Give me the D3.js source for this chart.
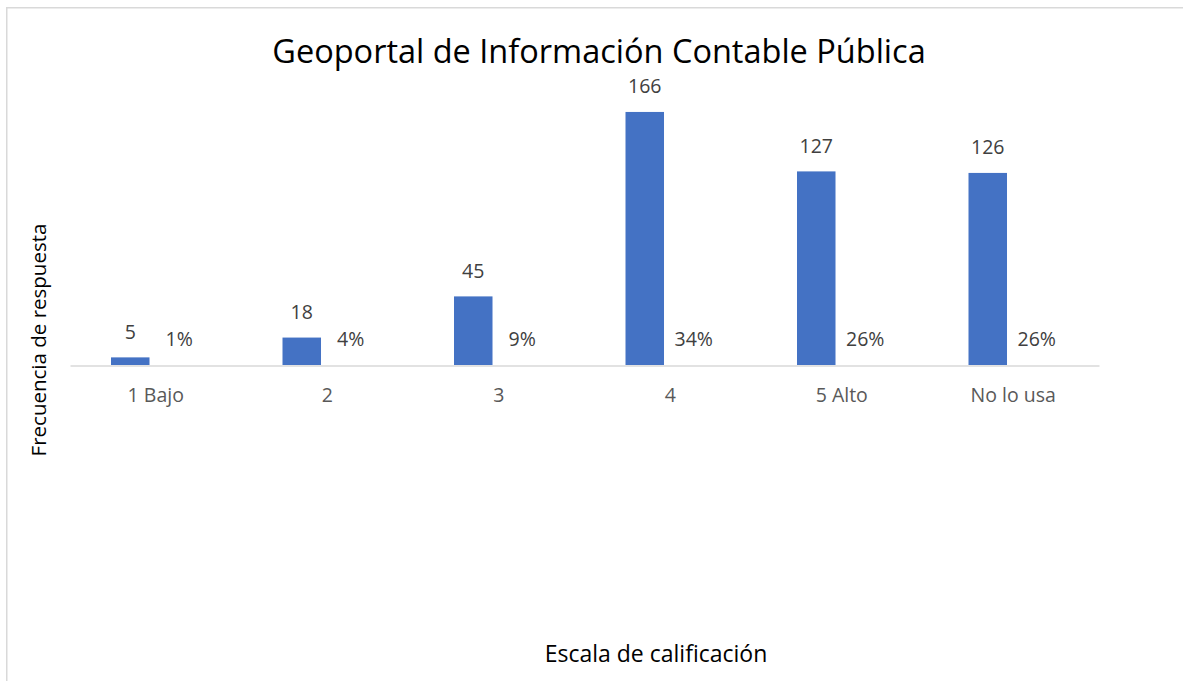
<!DOCTYPE html>
<html>
<head>
<meta charset="utf-8">
<script src="https://cdn.jsdelivr.net/npm/d3@7"></script>
<style>
  html, body { margin: 0; padding: 0; background: #fff; }
  svg { display: block; }
  text { font-family: "Open Sans", Lato, sans-serif; }
</style>
</head>
<body>
<svg id="chart" width="1183" height="681"></svg>
<script>
const categories = ["1 Bajo", "2", "3", "4", "5 Alto", "No lo usa"];
const frequencies = [5, 18, 45, 166, 127, 126];
const percentages = [0.01, 0.04, 0.09, 0.34, 0.26, 0.26];
const seriesNames = ["Frecuencia", "Porcentaje"];
const titleText = "Geoportal de Información Contable Pública";
const xTitle = "Escala de calificación";
const yTitle = "Frecuencia de respuesta";

const svg = d3.select("#chart");
const W = 1183, H = 681;

// outer frame
svg.append("rect")
  .attr("x", 6.75).attr("y", 7.75)
  .attr("width", W + 20).attr("height", H + 20)
  .attr("fill", "#fff").attr("stroke", "#d9d9d9").attr("stroke-width", 1.5);

const plot = { left: 70, right: 1099, top: 90, bottom: 365 };

const x0 = d3.scaleBand().domain(categories).range([plot.left, plot.right]).paddingInner(0).paddingOuter(0);
const bw = x0.bandwidth();
const x1 = d3.scaleBand().domain(seriesNames)
  .range([bw / 2 - 44.75, bw / 2 + 44.75]).paddingInner(0.245).paddingOuter(0);
const y = d3.scaleLinear().domain([0, 180.4]).range([plot.bottom, plot.top]);

const data = categories.map((c, i) => ({ cat: c, freq: frequencies[i], pct: percentages[i] }));

// bars: frequency
svg.append("g").selectAll("rect").data(data).join("rect")
  .attr("x", d => x0(d.cat) + x1("Frecuencia"))
  .attr("y", d => y(d.freq))
  .attr("width", x1.bandwidth())
  .attr("height", d => y(0) - y(d.freq))
  .attr("fill", "#4472c4");

// x axis line
const xAxis = d3.axisBottom(x0).tickSize(0).tickPadding(23);
const gx = svg.append("g").attr("transform", `translate(0,${plot.bottom + 0.5})`).call(xAxis);
gx.select(".domain").attr("stroke", "#d9d9d9").attr("stroke-width", 1.3);
gx.selectAll(".tick text")
  .attr("font-family", "'Open Sans', Lato, sans-serif")
  .attr("font-size", 19.5).attr("fill", "#595959").attr("dy", "0.71em");

// data labels: frequency
svg.append("g").selectAll("text").data(data).join("text")
  .attr("x", d => x0(d.cat) + x1("Frecuencia") + x1.bandwidth() / 2)
  .attr("y", d => y(d.freq) - 18.5)
  .attr("text-anchor", "middle")
  .attr("font-size", 19.5).attr("fill", "#404040")
  .text(d => d3.format("d")(d.freq));

// data labels: percentage series (bars of near-zero height on the same axis)
svg.append("g").selectAll("text").data(data).join("text")
  .attr("x", d => x0(d.cat) + x1("Porcentaje") + x1.bandwidth() / 2 - 2)
  .attr("y", d => y(d.pct) - 18.5)
  .attr("text-anchor", "middle")
  .attr("font-size", 19.5).attr("fill", "#404040")
  .text(d => d3.format(".0%")(d.pct));

// title
svg.append("text")
  .attr("x", 599).attr("y", 63)
  .attr("text-anchor", "middle")
  .attr("font-size", 32.5).attr("fill", "#000")
  .text(titleText);

// axis titles
svg.append("text")
  .attr("x", 656).attr("y", 662)
  .attr("text-anchor", "middle")
  .attr("font-size", 23).attr("fill", "#000")
  .text(xTitle);

svg.append("text")
  .attr("transform", "translate(46,340) rotate(-90)")
  .attr("text-anchor", "middle")
  .attr("font-size", 20.5).attr("fill", "#000")
  .text(yTitle);
</script>
</body>
</html>
